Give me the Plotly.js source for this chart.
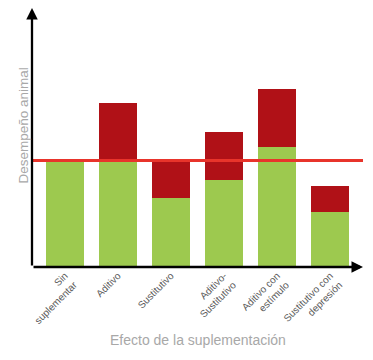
<!DOCTYPE html>
<html>
<head>
<meta charset="utf-8">
<script src="https://cdn.plot.ly/plotly-3.0.1.min.js"></script>
<style>html,body{margin:0;padding:0;background:#fff;}#chart{width:373px;height:360px;}</style>
</head>
<body>
<div id="chart"></div>
<script>
const categories = ['Sin<br>suplementar', 'Aditivo', 'Sustitutivo', 'Aditivo-<br>Sustitutivo', 'Aditivo con<br>estímulo', 'Sustitutivo con<br>depresión'];
const baseValues = [100, 100, 65, 82, 113, 52];
const effectValues = [0, 54, 35, 45, 54, 24];
const referenceLevel = 100;
const xTitle = 'Efecto de la suplementación';
const yTitle = 'Desempeño animal';

const font = 'Liberation Sans Narrow, Liberation Sans, Arial, sans-serif';

const traces = [
  {type: 'bar', x: categories, y: baseValues, marker: {color: '#9dc94f'}, hoverinfo: 'skip'},
  {type: 'bar', x: categories, y: effectValues, marker: {color: '#b01117'}, hoverinfo: 'skip'}
];

const layout = {
  width: 373, height: 360,
  margin: {l: 32, r: 10, t: 8, b: 93, autoexpand: false},
  paper_bgcolor: '#fff', plot_bgcolor: '#fff',
  barmode: 'stack', bargap: 0.28,
  showlegend: false,
  xaxis: {
    type: 'category', range: [-0.62, 5.62], automargin: false,
    showline: false, showgrid: false, zeroline: false,
    ticks: '', tickangle: -45,
    tickfont: {family: font, size: 10, color: '#595959'}
  },
  yaxis: {
    range: [0, 243], showline: false, showgrid: false, zeroline: false,
    showticklabels: false, ticks: '', automargin: false
  },
  shapes: [
    {type: 'line', xref: 'paper', x0: 0, x1: 1, yref: 'y', y0: referenceLevel, y1: referenceLevel,
     line: {color: '#e8342b', width: 3}}
  ],
  annotations: [
    {xref: 'paper', yref: 'paper', x: 0, y: 1, ax: 0, ay: 259, text: '', showarrow: true,
     arrowhead: 2, arrowsize: 1, arrowwidth: 2.3, arrowcolor: '#000'},
    {xref: 'paper', yref: 'paper', x: 1, y: 0, ax: -331, ay: 0, text: '', showarrow: true,
     arrowhead: 2, arrowsize: 1, arrowwidth: 2.3, arrowcolor: '#000'},
    {xref: 'paper', yref: 'paper', x: -0.054, y: 0.545, text: yTitle, textangle: -90, showarrow: false,
     font: {family: font, size: 13.5, color: '#a8a8a8'}},
    {xref: 'paper', yref: 'paper', x: 0.5, y: -0.282, yanchor: 'middle', text: xTitle, showarrow: false,
     font: {family: font, size: 14, color: '#a8a8a8'}}
  ]
};

Plotly.newPlot('chart', traces, layout, {displayModeBar: false, staticPlot: true});
</script>
</body>
</html>
